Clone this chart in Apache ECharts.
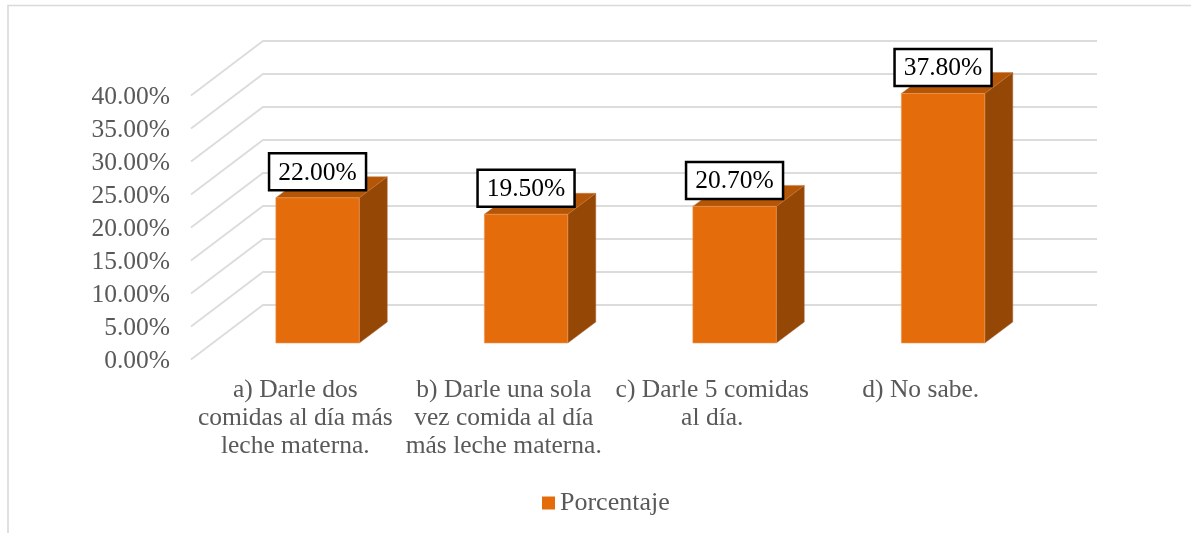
<!DOCTYPE html>
<html>
<head>
<meta charset="utf-8">
<style>html,body{margin:0;padding:0;background:#fff}#c{width:1191px;height:533px}</style>
<script src="https://cdn.jsdelivr.net/npm/echarts@6/dist/echarts.min.js"></script>
</head>
<body>
<div id="c"></div>
<script>
const categories = [
  'a) Darle dos\ncomidas al día más\nleche materna.',
  'b) Darle una sola\nvez comida al día\nmás leche materna.',
  'c) Darle 5 comidas\nal día.',
  'd) No sabe.'
];
const seriesName = 'Porcentaje';
const values = [22.0, 19.5, 20.7, 37.8];
const ticks = [0, 5, 10, 15, 20, 25, 30, 35, 40];

const FONT = '"Liberation Serif", serif';
const fmt = v => v.toFixed(2) + '%';
const wall = { dx: 72, dy: -54.5 };
const inset = { dx: 22.3, dy: -16.5 };
const depth = { dx: 28, dy: -21 };
const box = { w: 97, h: 37, gap: 26 };

function renderWall(params, api) {
  const p = api.coord([0, api.value(1)]);
  const r = params.coordSys;
  return {
    type: 'polyline',
    shape: { points: [[r.x, p[1]], [r.x + wall.dx, p[1] + wall.dy], [r.x + r.width + wall.dx, p[1] + wall.dy]] },
    style: { stroke: '#dcdcdc', lineWidth: 1.8, fill: null },
    silent: true
  };
}

function renderBar(params, api) {
  const c = api.coord([api.value(0), api.value(1)]);
  const base = api.coord([api.value(0), 0]);
  const w = api.size([1, 0])[0] * 0.4;
  const l = c[0] - w / 2 + inset.dx, r = l + w;
  const t = c[1] + inset.dy, b = base[1] + inset.dy;
  const dx = depth.dx, dy = depth.dy;
  const edge = { stroke: '#ee9a58', lineWidth: 0.6 };
  const cx = (l + r) / 2, cy = t - box.gap;
  return {
    type: 'group',
    children: [
      { type: 'polygon', shape: { points: [[r, t], [r + dx, t + dy], [r + dx, b + dy], [r, b]] },
        style: Object.assign({ fill: '#954706' }, { stroke: '#a9663a', lineWidth: 0.5 }) },
      { type: 'polygon', shape: { points: [[l, t], [l + dx, t + dy], [r + dx, t + dy], [r, t]] },
        style: Object.assign({ fill: '#b55607' }, { stroke: '#c07a40', lineWidth: 0.5 }) },
      { type: 'rect', shape: { x: l, y: t, width: w, height: b - t },
        style: Object.assign({ fill: '#e46c0a' }, edge) },
      { type: 'rect', shape: { x: cx - box.w / 2, y: cy - box.h / 2, width: box.w, height: box.h },
        style: { fill: '#ffffff', stroke: '#000000', lineWidth: 2.5 } },
      { type: 'text', x: cx, y: cy + 1,
        style: { text: fmt(api.value(1)), fill: '#000000', font: '25.5px ' + FONT, align: 'center', verticalAlign: 'middle' } }
    ]
  };
}

const chart = echarts.init(document.getElementById('c'), null, { renderer: 'canvas' });
chart.setOption({
  animation: false,
  backgroundColor: '#ffffff',
  graphic: [{
    type: 'polyline',
    shape: { points: [[8, 533], [8, 5.5], [1191, 5.5]] },
    style: { stroke: '#d9d9d9', lineWidth: 1.6, fill: null },
    silent: true
  }],
  legend: {
    data: [seriesName],
    left: 537,
    top: 485,
    icon: 'rect',
    itemWidth: 13,
    itemHeight: 13,
    textStyle: { color: '#595959', fontFamily: FONT, fontSize: 26 },
    selectedMode: false
  },
  grid: { left: 191, right: 166, top: 95.5, bottom: 173.5, containLabel: false },
  xAxis: {
    type: 'category',
    data: categories,
    axisLine: { show: false },
    axisTick: { show: false },
    axisLabel: { color: '#595959', fontFamily: FONT, fontSize: 25.5, lineHeight: 28, margin: 17, interval: 0 }
  },
  yAxis: {
    type: 'value',
    min: 0,
    max: 40,
    interval: 5,
    splitLine: { show: false },
    axisLine: { show: false },
    axisTick: { show: false },
    axisLabel: { color: '#595959', fontFamily: FONT, fontSize: 25.5, margin: 21, verticalAlign: 'top', lineHeight: 4, formatter: v => fmt(v) }
  },
  series: [
    {
      name: 'Cuadrícula',
      type: 'custom',
      z: 1,
      renderItem: renderWall,
      encode: { x: 0, y: 1 },
      data: ticks.map(t => [0, t]),
      silent: true
    },
    {
      name: seriesName,
      type: 'custom',
      z: 2,
      itemStyle: { color: '#e46c0a' },
      renderItem: renderBar,
      encode: { x: 0, y: 1 },
      data: values.map((v, i) => [i, v])
    }
  ]
});
</script>
</body>
</html>
